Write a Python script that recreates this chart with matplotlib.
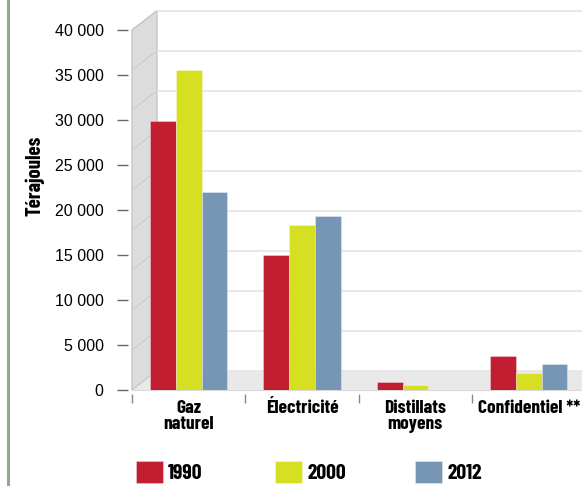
import numpy as np
import matplotlib
matplotlib.use("Agg")
import matplotlib.pyplot as plt
from matplotlib.patches import Polygon
from matplotlib.ticker import FixedLocator, FuncFormatter

# data
categories = ["Gaz\nnaturel", "Électricité", "Distillats\nmoyens", "Confidentiel **"]
years = ["1990", "2000", "2012"]
v1990 = [29900, 15000, 900, 3800]
v2000 = [35500, 18300, 550, 1900]
v2012 = [22000, 19300, 0, 2900]
yticks = [0, 5000, 10000, 15000, 20000, 25000, 30000, 35000, 40000]
colors = ["#c11f31", "#d7df23", "#7796b6"]

W, H = 582, 486
fig = plt.figure(figsize=(W / 100, H / 100), dpi=100)

cond = dict(family=["Barlow Condensed", "DejaVu Sans"], weight="bold")

# background: pseudo 3d walls (pixel coords)
bg = fig.add_axes([0, 0, 1, 1], zorder=0)
bg.set_xlim(0, W)
bg.set_ylim(H, 0)
bg.axis("off")

x0, y0, ytop = 132, 390, 30          # front plane of the plot
dx, dy = 25, 19.3                     # depth offset
bx, bfloor, btop = x0 + dx, y0 - dy, ytop - dy
bg.plot([8, 8], [0, H], color="#86ad8e", lw=2.2)
bg.add_patch(Polygon([(x0, ytop), (bx, btop), (bx, bfloor), (x0, y0)],
                     closed=True, fc="#dcdcde", ec="#c6c6c8", lw=1))
bg.add_patch(Polygon([(x0, y0), (bx, bfloor), (W, bfloor), (W, y0)],
                     closed=True, fc="#e9e9e9", ec="none"))
nback = 9
for k in range(nback + 1):
    yb = btop + k * (bfloor - btop) / nback
    bg.plot([bx, W], [yb, yb], color="#e8e8e8", lw=1.4)
    bg.plot([x0, bx], [yb + dy, yb], color="#c4c4c6", lw=0.6)
bg.plot([x0, W], [y0, y0], color="#dadada", lw=0.8)

# main axes
ax = fig.add_axes([x0 / W, 1 - y0 / H, (W - x0) / W, (y0 - ytop) / H], zorder=2)
ax.patch.set_alpha(0)
step = 113.4
ax.set_xlim(-(188.5 - x0) / step, -(188.5 - x0) / step + (W - x0) / step)
ax.set_ylim(0, 40000)

w = 25.7 / step
x = np.arange(len(categories))
bars = []
for j, (vals, c) in enumerate(zip([v1990, v2000, v2012], colors)):
    b = ax.bar(x + (j - 1) * w, vals, w, color=c, edgecolor=(1, 1, 1, 0.45), lw=0.5, label=years[j])
    bars.append(b)

for s in ax.spines.values():
    s.set_visible(False)
ax.spines["left"].set_position(("outward", 3))
ax.spines["bottom"].set_position(("outward", 3))

ax.yaxis.set_major_locator(FixedLocator(yticks))
ax.yaxis.set_major_formatter(FuncFormatter(lambda v, p: f"{int(v):,}".replace(",", " ")))
ax.tick_params(axis="y", length=8, width=1, color="#666666", pad=9.5,
               labelsize=11.5, labelfontfamily="Liberation Sans")

ax.set_xticks(x)
ax.set_xticklabels(categories, linespacing=0.95, fontsize=14, **cond)
ax.set_xticks(np.arange(len(categories)) - 0.5, minor=True)
ax.tick_params(axis="x", which="major", length=0, pad=4)
ax.tick_params(axis="x", which="minor", length=6.5, width=1, color="#888888")

fig.text(35 / W, 1 - 176 / H, "Térajoules", rotation=90, ha="center", va="center",
         fontsize=15, **cond)

# legend: one entry per fixed slot
fs = 15.5
for b, yr, px in zip(bars, years, [136, 275, 415]):
    fig.legend(handles=[b], labels=[yr], loc="upper left",
               bbox_to_anchor=(px / W, 1 - 461 / H), frameon=False,
               handlelength=27.5 / (fs * 1.389), handleheight=26 / (fs * 1.389),
               handletextpad=0.22, borderpad=0, borderaxespad=0,
               prop=dict(size=fs, **cond))

fig.savefig("out.png", dpi=100)
